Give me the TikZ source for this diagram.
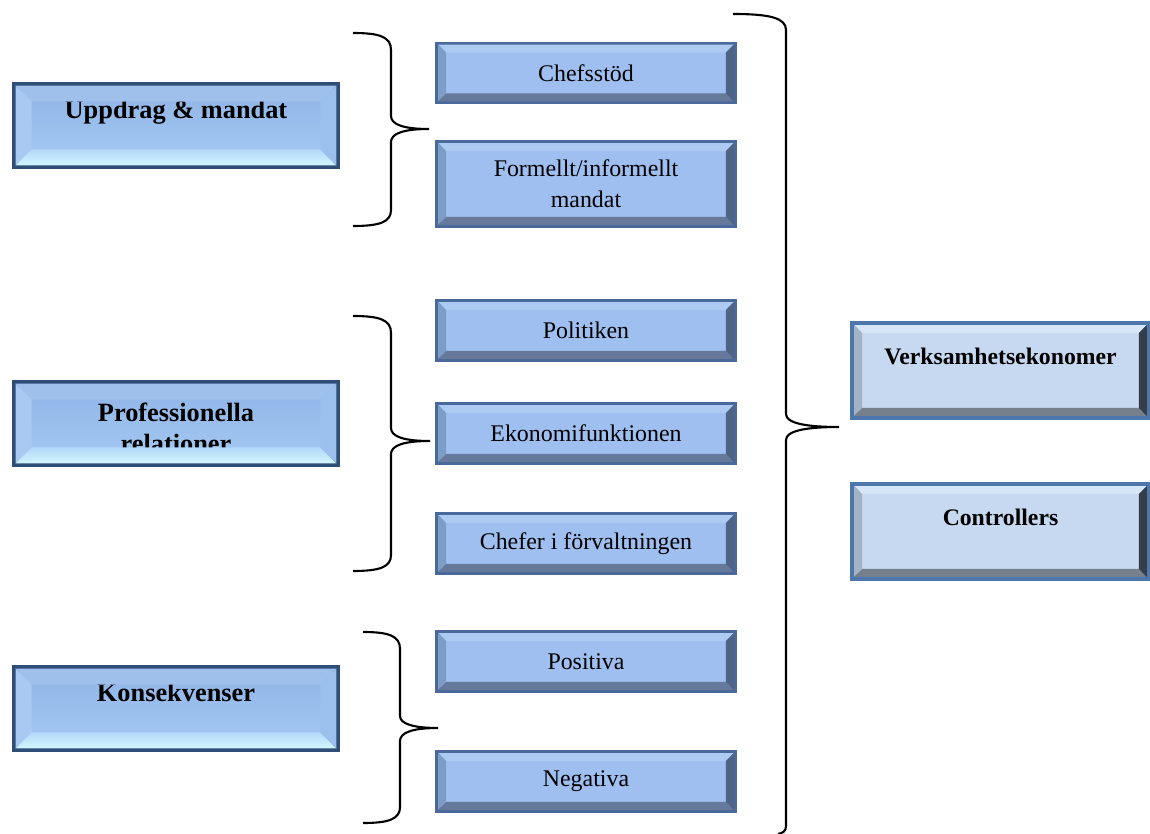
\documentclass[tikz,border=0pt]{standalone}
\usepackage{fontspec}
\setmainfont{Liberation Serif}
\usetikzlibrary{calc}

% box colours
\definecolor{leftframe}{HTML}{2E4E78}
\definecolor{leftfaceA}{HTML}{8FB3E6}
\definecolor{leftfaceB}{HTML}{A6CAF3}
\definecolor{lefttop}{HTML}{A0C0EC}
\definecolor{leftleft}{HTML}{A9C9F2}
\definecolor{leftright}{HTML}{9CC0EE}
\definecolor{leftbotA}{HTML}{B3D8F9}
\definecolor{leftbotB}{HTML}{D2F7FF}
\definecolor{midframe}{HTML}{48699A}
\definecolor{midface}{HTML}{9EBFF0}
\definecolor{midtop}{HTML}{ADCAF2}
\definecolor{midleft}{HTML}{7D9CC6}
\definecolor{midbot}{HTML}{66799A}
\definecolor{midright}{HTML}{4F6384}
\definecolor{rightframe}{HTML}{4D76AC}
\definecolor{rightface}{HTML}{C6D9F1}
\definecolor{righttop}{HTML}{D7E6F6}
\definecolor{rightleft}{HTML}{A3B3C6}
\definecolor{rightbot}{HTML}{76808C}
\definecolor{rightright}{HTML}{353D48}

% bevel strips over a box: node, width, top, left, bottom, right
\newcommand{\bevel}[6]{%
  \path[#3] (#1.north west) -- (#1.north east) -- ([shift={(-#2,#2)}]#1.north east) -- ([shift={(#2,#2)}]#1.north west) -- cycle;
  \path[#4] (#1.north west) -- ([shift={(#2,#2)}]#1.north west) -- ([shift={(#2,-#2)}]#1.south west) -- (#1.south west) -- cycle;
  \path[#5] (#1.south west) -- ([shift={(#2,-#2)}]#1.south west) -- ([shift={(-#2,-#2)}]#1.south east) -- (#1.south east) -- cycle;
  \path[#6] (#1.south east) -- ([shift={(-#2,-#2)}]#1.south east) -- ([shift={(-#2,#2)}]#1.north east) -- (#1.north east) -- cycle;
}

\begin{document}
\begin{tikzpicture}[x=0.02cm,y=-0.02cm,
    leftbox/.style={rectangle, draw=leftframe, line width=0.14cm, top color=leftfaceA, bottom color=leftfaceB,
      minimum width=6.42cm, minimum height=1.60cm, inner sep=0pt, outer sep=0pt, align=center,
      font=\fontsize{15pt}{18pt}\selectfont\bfseries},
    midbox/.style={rectangle, draw=midframe, line width=0.12cm, fill=midface,
      minimum width=5.92cm, minimum height=1.14cm, inner sep=0pt, outer sep=0pt, align=center,
      font=\fontsize{13.6pt}{17.6pt}\selectfont},
    rightbox/.style={rectangle, draw=rightframe, line width=0.16cm, fill=rightface,
      minimum width=5.86cm, minimum height=1.82cm, inner sep=0pt, outer sep=0pt, align=center,
      font=\fontsize{13.5pt}{16pt}\selectfont\bfseries},
    brace/.style={line width=1.2pt}]

    \useasboundingbox (0,0) rectangle (1150,834);

    % main themes
    \node [leftbox] (upp) at (176,125.5) {Uppdrag \& mandat\\\mbox{}};
    \node [leftbox] (prof) at (176,423.5)
        {\raisebox{-4pt}[\height][\depth]{\begin{tabular}{@{}c@{}}Professionella\\relationer\end{tabular}}};
    \node [leftbox] (kons) at (176,708.5) {Konsekvenser\\\mbox{}};

    % sub themes
    \node [midbox] (chef) at (586,73) {Chefsstöd};
    \node [midbox, minimum height=1.64cm] (form) at (586,184) {Formellt/informellt\\mandat};
    \node [midbox] (pol) at (586,330.5) {Politiken};
    \node [midbox] (eko) at (586,433.5) {Ekonomifunktionen};
    \node [midbox] (chfr) at (586,543.5) {Chefer i förvaltningen};
    \node [midbox] (pos) at (586,661.5) {Positiva};
    \node [midbox] (neg) at (586,781.5) {Negativa};

    % groups
    \node [rightbox] (verk) at (1000.5,370.5) {Verksamhetsekonomer\\\mbox{}};
    \node [rightbox] (ctrl) at (1000.5,531.5) {Controllers\\\mbox{}};

    \foreach \n in {upp,prof,kons}
        {\bevel{\n}{16}{fill=lefttop}{fill=leftleft}{top color=leftbotA,bottom color=leftbotB}{fill=leftright}}
    \foreach \n in {chef,form,pol,eko,chfr,pos,neg}
        {\bevel{\n}{8}{fill=midtop}{fill=midleft}{fill=midbot}{fill=midright}}
    \foreach \n in {verk,ctrl}
        {\bevel{\n}{8}{fill=righttop}{fill=rightleft}{fill=rightbot}{fill=rightright}}

    % braces
    \draw[brace] (353,33) .. controls (380,33) and (391,37) .. (391,50) -- (391,116)
        .. controls (391,125) and (405,129) .. (429,129) .. controls (405,129) and (391,133) .. (391,142)
        -- (391,210) .. controls (391,222) and (380,226) .. (353,226);
    \draw[brace] (353,316) .. controls (380,316) and (391,320) .. (391,333) -- (391,428)
        .. controls (391,437) and (405,441) .. (430,441) .. controls (405,441) and (391,445) .. (391,454)
        -- (391,555) .. controls (391,567) and (380,571) .. (353,571);
    \draw[brace] (363,632) .. controls (389,632) and (400,636) .. (400,649) -- (400,716)
        .. controls (400,724) and (414,728) .. (438,728) .. controls (414,728) and (400,732) .. (400,741)
        -- (400,807) .. controls (400,819) and (389,823) .. (363,823);
    \draw[brace] (733,14) .. controls (770,14) and (786,18) .. (786,30) -- (786,414)
        .. controls (786,423) and (805,427) .. (839,427) .. controls (805,427) and (786,431) .. (786,440)
        -- (786,826) .. controls (786,831) and (783,833) .. (778,834);

\end{tikzpicture}
\end{document}
